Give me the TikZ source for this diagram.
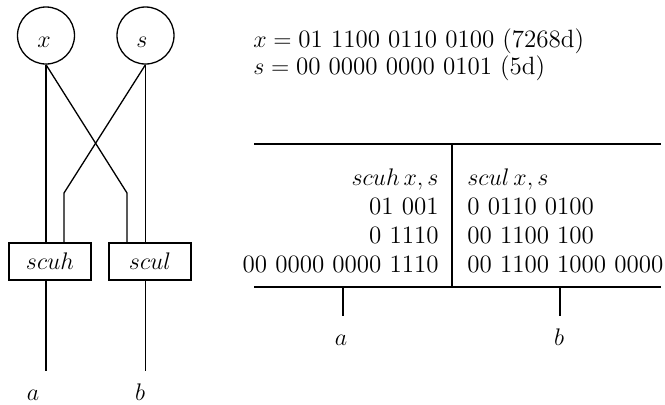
\documentclass[tikz,border=0pt]{standalone}
\usepackage{fontspec}
\begin{document}
\begin{tikzpicture}[x=0.5pt,y=-0.5pt,
  wire/.style={line width=0.65pt},
  rule/.style={line width=0.9pt},
  ring/.style={circle,draw,line width=0.65pt,minimum size=28.5pt,inner sep=0pt},
  opbox/.style={rectangle,draw,line width=0.65pt,minimum width=41pt,minimum height=18.5pt,inner sep=0pt},
  txt/.style={inner sep=0pt,font=\fontsize{12.5}{15}\selectfont}]
\useasboundingbox (0,0) rectangle (665,404);
% left circuit
\node[ring] (xc) at (46,35.5) {};
\node[ring] (sc) at (145.5,35.5) {};
\node[txt,anchor=base] (xl) at (44,47) {$x$};
\node[txt,anchor=base] (sl) at (142,47) {$s$};
\node[opbox,txt] (scuh) at (50,261.5) {$scuh$};
\node[opbox,txt] (scul) at (150,261.5) {$scul$};
\coordinate (c1) at (64,193);
\coordinate (c2) at (127,193);
\coordinate (oa) at (46,371);
\coordinate (ob) at (145.5,371);
\draw[wire] (xc.south) -- (xc.south |- scuh.north);
\draw[wire] (xc.south) -- (c2) -- (c2 |- scul.north);
\draw[wire] (sc.south) -- (c1) -- (c1 |- scuh.north);
\draw[wire] (sc.south) -- (sc.south |- scul.north);
\draw[wire] (oa |- scuh.south) -- (oa);
\draw[wire] (ob |- scul.south) -- (ob);
\node[txt,anchor=base] (la) at (33,400) {$a$};
\node[txt,anchor=base] (lb) at (140,400) {$b$};
% equations
\node[txt,anchor=base west] (eqx) at (253,47) {$x = \mbox{01 1100 0110 0100 (7268d)}$};
\node[txt,anchor=base west] (eqs) at (253,74) {$s = \mbox{00 0000 0000 0101 (5d)}$};
% table
\coordinate (tl) at (254,144);
\coordinate (tr) at (661,144);
\coordinate (bl) at (254,287);
\coordinate (br) at (661,287);
\coordinate (vt) at (452,144);
\coordinate (vb) at (452,287);
\draw[rule] (tl) -- (tr);
\draw[rule] (bl) -- (br);
\draw[wire] (vt) -- (vb);
\node[txt,anchor=base east] (h1) at (439,185) {$scuh\,x, s$};
\node[txt,anchor=base east] (r1a) at (439,214) {01 001};
\node[txt,anchor=base east] (r2a) at (439,243) {0 1110};
\node[txt,anchor=base east] (r3a) at (439,272) {00 0000 0000 1110};
\node[txt,anchor=base west] (h2) at (467,185) {$scul\,x, s$};
\node[txt,anchor=base west] (r1b) at (467,214) {0 0110 0100};
\node[txt,anchor=base west] (r2b) at (467,243) {00 1100 100};
\node[txt,anchor=base west] (r3b) at (467,272) {00 1100 1000 0000};
\coordinate (ta) at (343,316);
\coordinate (tb) at (560,316);
\draw[wire] (ta |- bl) -- (ta);
\draw[wire] (tb |- bl) -- (tb);
\node[txt,anchor=base] (ra) at (341,345) {$a$};
\node[txt,anchor=base] (rb) at (559,345) {$b$};
\end{tikzpicture}
\end{document}
